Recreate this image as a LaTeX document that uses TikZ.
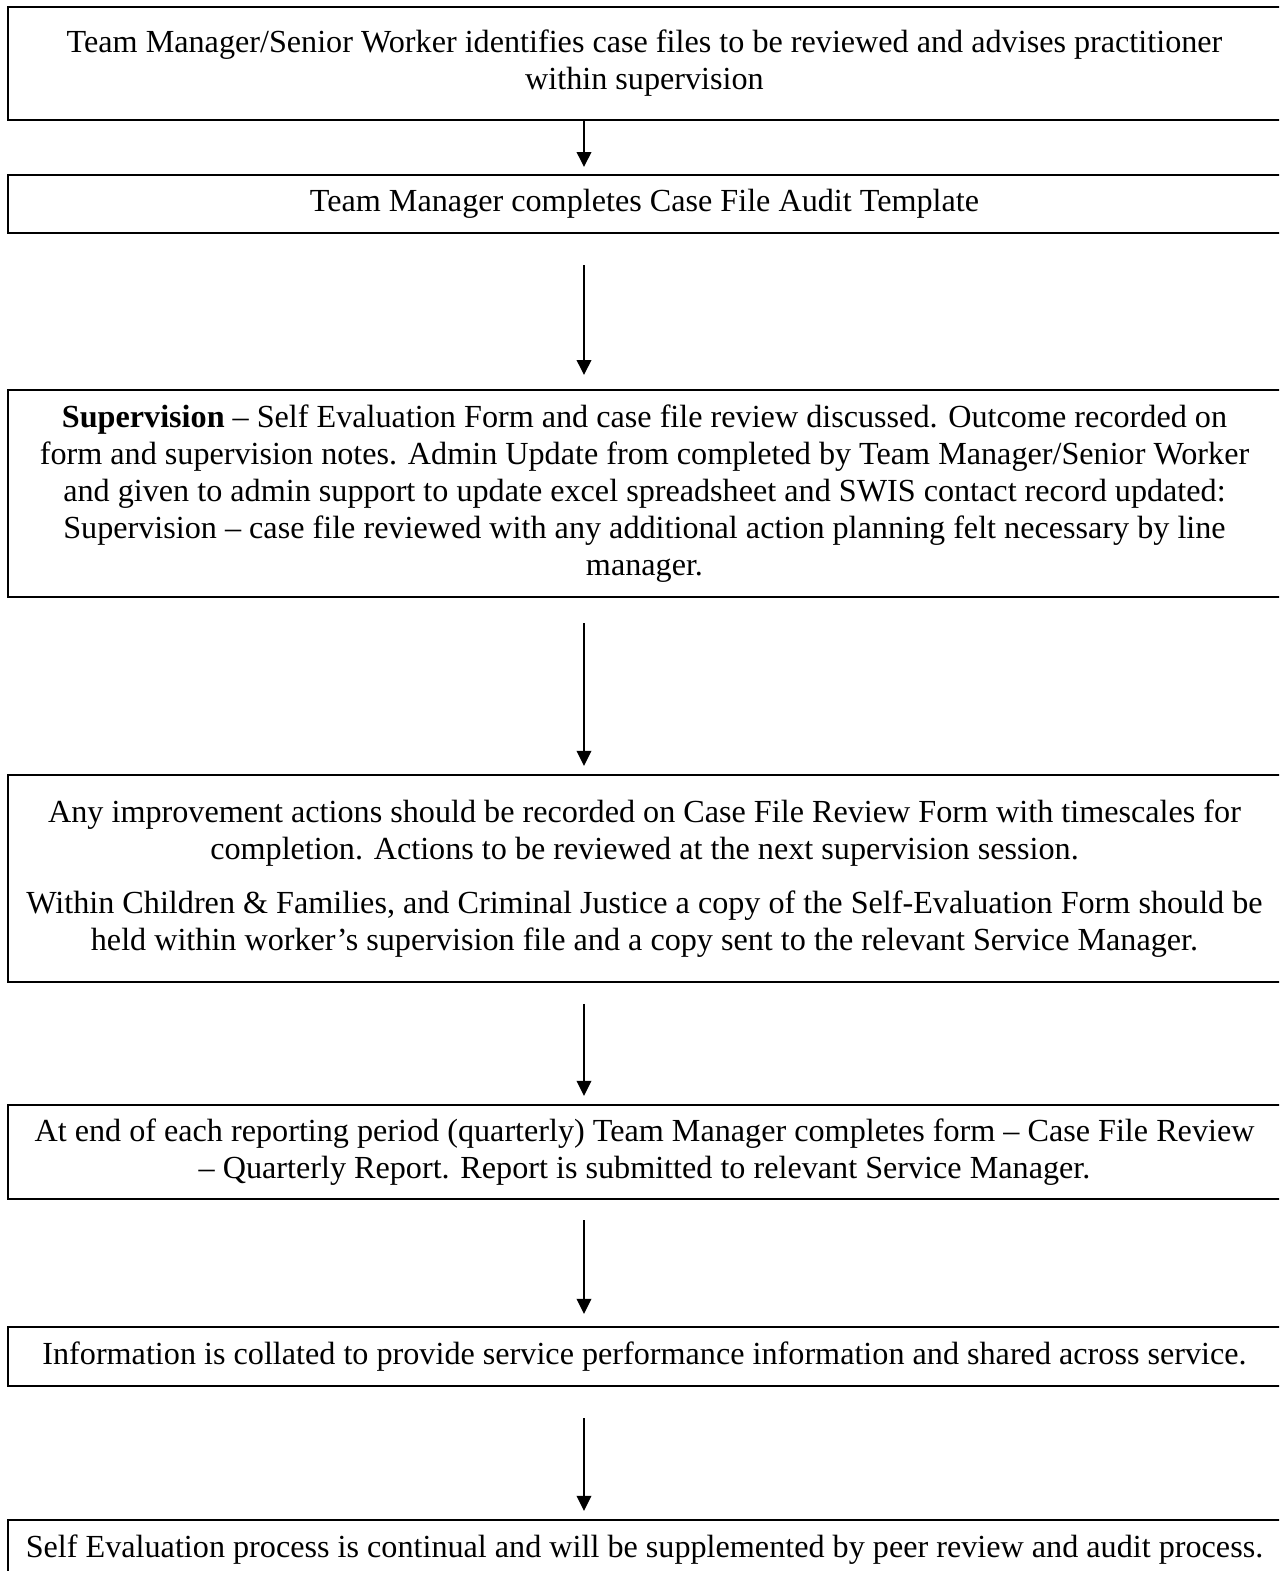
\documentclass[tikz,border=0pt]{standalone}
\usepackage{fontspec}
\setmainfont{Liberation Serif}
\usetikzlibrary{arrows.meta}

\begin{document}
\begin{tikzpicture}[x=0.373pt,y=-0.373pt,
		box/.style={draw,line width=0.8pt,minimum width=474.8pt,inner xsep=0pt,inner ysep=2pt,align=center,font=\fontsize{12}{13.8}\selectfont},
		flow/.style={-{Triangle[length=5.6pt,width=5.4pt]},line width=0.75pt}]
		\useasboundingbox (0,0) rectangle (1279,1571);
		\clip (0,0) rectangle (1279,1571);
		\node[box,minimum height=42.1pt](b1) at (644.5,63.5) {Team Manager/Senior Worker identifies case files to be reviewed and advises practitioner\\ within supervision};
		\node[box,minimum height=21.6pt](b2) at (644.5,204) {Team Manager completes Case File Audit Template};
		\node[box,minimum height=77.2pt](b3) at (644.5,493.5) {\textbf{Supervision} -- Self Evaluation Form and case file review discussed.  Outcome recorded on\\ form and supervision notes.  Admin Update from completed by Team Manager/Senior Worker\\ and given to admin support to update excel spreadsheet and SWIS contact record updated:\\ Supervision -- case file reviewed with any additional action planning felt necessary by line\\ manager.};
		\node[box,minimum height=77.2pt](b4) at (644.5,878.5) {Any improvement actions should be recorded on Case File Review Form with timescales for\\ completion.  Actions to be reviewed at the next supervision session.\\[6.3pt] Within Children \& Families, and Criminal Justice a copy of the Self-Evaluation Form should be\\ held within worker’s supervision file and a copy sent to the relevant Service Manager.};
		\node[box,minimum height=35.1pt](b5) at (644.5,1152) {At end of each reporting period (quarterly) Team Manager completes form -- Case File Review\\ -- Quarterly Report.  Report is submitted to relevant Service Manager.};
		\node[box,minimum height=22pt](b6) at (644.5,1356.5) {Information is collated to provide service performance information and shared across service.};
		\node[box,minimum height=22pt](b7) at (644.5,1549.5) {Self Evaluation process is continual and will be supplemented by peer review and audit process.};
		\coordinate (ax) at (584,0);
		\draw[flow,shorten >=2.6pt] (b1.south -| ax) -- (b2.north -| ax);
		\draw[flow,shorten <=11.6pt,shorten >=5.2pt] (b2.south -| ax) -- (b3.north -| ax);
		\draw[flow,shorten <=9.3pt,shorten >=3pt] (b3.south -| ax) -- (b4.north -| ax);
		\draw[flow,shorten <=7.8pt,shorten >=3pt] (b4.south -| ax) -- (b5.north -| ax);
		\draw[flow,shorten <=7.5pt,shorten >=4.5pt] (b5.south -| ax) -- (b6.north -| ax);
		\draw[flow,shorten <=11.6pt,shorten >=3pt] (b6.south -| ax) -- (b7.north -| ax);
	\end{tikzpicture}
\end{document}
